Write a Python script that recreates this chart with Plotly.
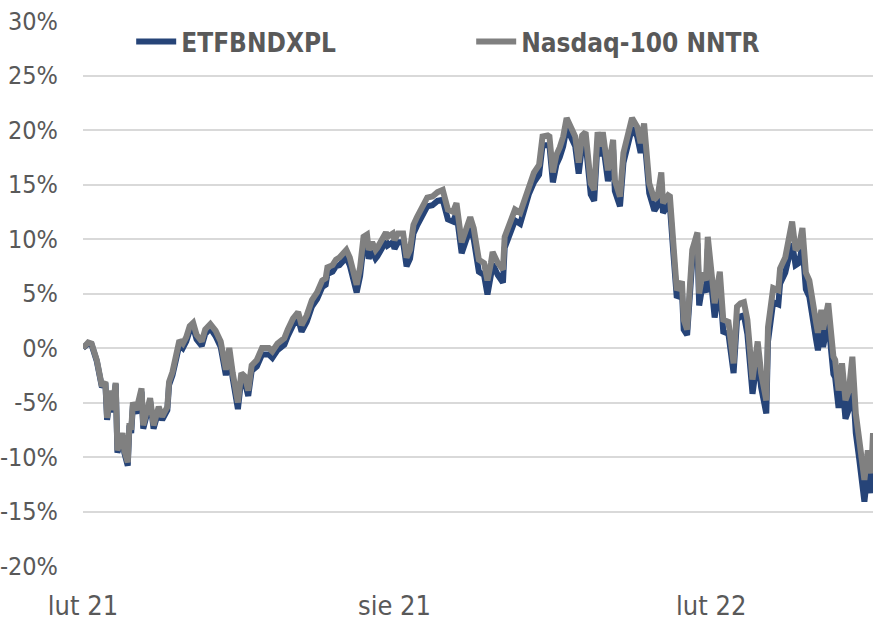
import plotly.graph_objects as go

dates = [
    "2021-02-01", "2021-02-04", "2021-02-06", "2021-02-09", "2021-02-12", "2021-02-14", "2021-02-15",
    "2021-02-17", "2021-02-18", "2021-02-20", "2021-02-21", "2021-02-24", "2021-02-25", "2021-02-27",
    "2021-02-28", "2021-03-01", "2021-03-02", "2021-03-04", "2021-03-07", "2021-03-08", "2021-03-12",
    "2021-03-14", "2021-03-17", "2021-03-19", "2021-03-22", "2021-03-23", "2021-03-25", "2021-03-29",
    "2021-03-31", "2021-04-02", "2021-04-04", "2021-04-06", "2021-04-08", "2021-04-11", "2021-04-13",
    "2021-04-16", "2021-04-19", "2021-04-22", "2021-04-25", "2021-04-27", "2021-04-29", "2021-05-02",
    "2021-05-04", "2021-05-06", "2021-05-08", "2021-05-10", "2021-05-13", "2021-05-16", "2021-05-20",
    "2021-05-22", "2021-05-25", "2021-05-29", "2021-05-31", "2021-06-03", "2021-06-06", "2021-06-08",
    "2021-06-11", "2021-06-14", "2021-06-17", "2021-06-20", "2021-06-22", "2021-06-23", "2021-06-26",
    "2021-06-28", "2021-06-30", "2021-07-04", "2021-07-06", "2021-07-10", "2021-07-12", "2021-07-14",
    "2021-07-16", "2021-07-17", "2021-07-19", "2021-07-21", "2021-07-22", "2021-07-25", "2021-07-27",
    "2021-07-28", "2021-07-31", "2021-08-01", "2021-08-03", "2021-08-06", "2021-08-08", "2021-08-10",
    "2021-08-12", "2021-08-14", "2021-08-17", "2021-08-20", "2021-08-23", "2021-08-26", "2021-08-29",
    "2021-08-30", "2021-09-01", "2021-09-04", "2021-09-06", "2021-09-09", "2021-09-11", "2021-09-14",
    "2021-09-16", "2021-09-19", "2021-09-22", "2021-09-24", "2021-09-26", "2021-09-27", "2021-09-30",
    "2021-10-03", "2021-10-04", "2021-10-07", "2021-10-10", "2021-10-13", "2021-10-16", "2021-10-18",
    "2021-10-21", "2021-10-24", "2021-10-26", "2021-10-29", "2021-10-30", "2021-11-01", "2021-11-03",
    "2021-11-05", "2021-11-07", "2021-11-09", "2021-11-11", "2021-11-14", "2021-11-16", "2021-11-18",
    "2021-11-20", "2021-11-23", "2021-11-25", "2021-11-27", "2021-11-29", "2021-11-30", "2021-12-03",
    "2021-12-06", "2021-12-07", "2021-12-10", "2021-12-12", "2021-12-15", "2021-12-17", "2021-12-20",
    "2021-12-22", "2021-12-24", "2021-12-27", "2021-12-30", "2022-01-01", "2022-01-03", "2022-01-04",
    "2022-01-07", "2022-01-08", "2022-01-10", "2022-01-12", "2022-01-15", "2022-01-16", "2022-01-18",
    "2022-01-21", "2022-01-24", "2022-01-25", "2022-01-27", "2022-01-29", "2022-01-30", "2022-02-02",
    "2022-02-03", "2022-02-06", "2022-02-08", "2022-02-11", "2022-02-14", "2022-02-16", "2022-02-18",
    "2022-02-20", "2022-02-22", "2022-02-25", "2022-02-28", "2022-03-02", "2022-03-05", "2022-03-06",
    "2022-03-09", "2022-03-12", "2022-03-13", "2022-03-16", "2022-03-18", "2022-03-20", "2022-03-22",
    "2022-03-24", "2022-03-26", "2022-03-28", "2022-03-30", "2022-04-01", "2022-04-03", "2022-04-04",
    "2022-04-06", "2022-04-07", "2022-04-10", "2022-04-13", "2022-04-14", "2022-04-16", "2022-04-18",
    "2022-04-20", "2022-04-22", "2022-04-24", "2022-04-26", "2022-04-28", "2022-05-01", "2022-05-03",
    "2022-05-05", "2022-05-06",
]

nasdaq_nntr = [
    0.0, 0.5, 0.4, -1.1, -3.5, -3.1, -6.4,
    -3.9, -5.7, -3.2, -9.4, -7.8, -9.4, -10.5,
    -6.9, -7.5, -5.0, -5.7, -3.7, -7.1, -4.6,
    -7.1, -5.4, -6.3, -5.4, -3.1, -2.2, 0.7,
    0.4, 1.0, 2.0, 2.3, 1.2, 0.6, 1.7,
    2.2, 1.6, 0.6, -2.0, 0.0, -2.3, -5.0,
    -2.3, -2.6, -3.9, -1.6, -1.1, 0.0, 0.0,
    -0.3, 0.4, 0.9, 1.7, 2.7, 3.3, 2.1,
    3.0, 4.4, 5.1, 6.2, 6.4, 7.4, 7.6,
    8.1, 8.3, 9.0, 8.3, 5.8, 7.4, 10.2,
    10.4, 9.0, 9.7, 9.0, 9.2, 9.9, 10.6,
    10.2, 10.5, 9.9, 10.5, 10.5, 8.3, 9.0,
    11.3, 12.0, 12.8, 13.8, 13.9, 14.3, 14.5,
    13.9, 12.7, 12.5, 13.3, 9.7, 10.6, 12.0,
    11.0, 8.1, 7.8, 6.2, 7.8, 8.8, 7.8,
    7.2, 10.2, 11.3, 12.7, 12.4, 13.9, 15.0,
    16.1, 16.8, 19.4, 19.5, 19.4, 16.1, 17.7,
    18.4, 19.4, 21.1, 20.3, 19.4, 17.0, 19.5,
    19.8, 15.1, 14.5, 19.8, 18.5, 19.8, 16.3,
    19.1, 15.4, 13.9, 17.9, 19.7, 21.1, 20.3,
    18.8, 20.6, 15.1, 13.6, 14.0, 16.1, 13.3,
    14.0, 13.9, 9.6, 5.3, 6.1, 2.6, 1.7,
    9.0, 10.6, 5.0, 6.9, 6.2, 10.2, 4.4,
    4.1, 7.0, 2.6, 2.4, -1.4, 3.8, 4.1,
    4.2, 2.6, -2.9, 0.6, -2.3, -4.8, 1.9,
    5.5, 5.3, 7.3, 8.3, 9.9, 11.6, 9.0,
    9.3, 11.0, 6.9, 6.2, 3.8, 2.3, 1.4,
    3.5, 1.7, 4.1, -0.8, -1.1, -3.9, -1.4,
    -4.8, -3.9, -0.8, -6.0, -8.4, -12.1, -9.4,
    -11.5, -7.8,
]

etfbndxpl = [
    0.0, 0.4, 0.3, -1.2, -3.6, -3.2, -6.6,
    -4.0, -5.9, -3.3, -9.6, -8.0, -9.6, -10.8,
    -7.1, -7.8, -5.3, -6.0, -4.0, -7.4, -4.9,
    -7.4, -5.7, -6.6, -5.7, -3.4, -2.5, 0.3,
    0.0, 0.6, 1.6, 1.9, 0.8, 0.2, 1.3,
    1.8, 1.1, 0.1, -2.5, -0.5, -2.8, -5.6,
    -2.8, -3.1, -4.4, -2.1, -1.7, -0.6, -0.6,
    -0.9, -0.2, 0.3, 1.1, 2.1, 2.7, 1.5,
    2.4, 3.8, 4.5, 5.6, 5.8, 6.8, 7.0,
    7.5, 7.6, 8.3, 7.6, 5.1, 6.6, 9.4,
    9.6, 8.2, 8.9, 8.2, 8.4, 9.1, 9.8,
    9.4, 9.7, 9.1, 9.7, 9.7, 7.5, 8.2,
    10.5, 11.2, 12.0, 13.0, 13.1, 13.5, 13.6,
    13.0, 11.8, 11.6, 12.4, 8.7, 9.6, 11.0,
    10.0, 7.0, 6.7, 4.9, 6.7, 7.7, 6.7,
    6.0, 9.2, 10.3, 11.7, 11.4, 13.0, 14.1,
    15.2, 15.9, 18.6, 18.7, 18.6, 15.2, 16.8,
    17.5, 18.5, 20.2, 19.4, 18.5, 16.0, 18.6,
    18.9, 14.1, 13.5, 18.9, 17.6, 18.9, 15.3,
    18.2, 14.4, 13.0, 17.0, 18.8, 20.2, 19.4,
    17.9, 19.7, 14.2, 12.6, 13.1, 15.2, 12.4,
    13.1, 13.0, 8.7, 4.6, 5.2, 1.7, 1.2,
    8.0, 9.6, 3.9, 5.8, 5.1, 9.1, 3.1,
    2.8, 5.9, 1.5, 1.3, -2.3, 2.6, 2.9,
    3.0, 1.3, -4.2, -0.7, -3.6, -6.0, 0.6,
    4.2, 4.0, 5.9, 6.9, 8.4, 9.6, 7.6,
    7.8, 9.4, 5.4, 4.7, 2.2, 0.7, -0.2,
    1.9, 0.1, 2.5, -2.4, -2.7, -5.5, -3.0,
    -6.5, -5.6, -2.5, -7.8, -10.2, -14.1, -11.2,
    -13.3, -9.6,
]

series_names = ["ETFBNDXPL", "Nasdaq-100 NNTR"]
series_colors = ["#264478", "#808080"]

y_tick_values = [-20, -15, -10, -5, 0, 5, 10, 15, 20, 25, 30]
y_tick_labels = ["-20%", "-15%", "-10%", "-5%", "0%", "5%", "10%", "15%", "20%", "25%", "30%"]
x_tick_values = ["2021-02-01", "2021-08-01", "2022-02-01"]
x_tick_labels = ["lut 21", "sie 21", "lut 22"]

FONT = "DejaVu Sans Condensed, DejaVu Sans, sans-serif"
TEXT = "#595959"

fig = go.Figure()
for name, vals, col in zip(series_names, [etfbndxpl, nasdaq_nntr], series_colors):
    fig.add_trace(go.Scatter(
        x=dates, y=vals, name=name, mode="lines",
        line=dict(color=col, width=6, shape="linear"),
    ))

fig.update_layout(
    width=873, height=620,
    margin=dict(l=83, r=0, t=21, b=54),
    paper_bgcolor="white", plot_bgcolor="white",
    font=dict(family=FONT, color=TEXT, size=25),
    showlegend=True,
    legend=dict(
        orientation="h", x=0.061, y=0.962, xanchor="left", yanchor="middle",
        bgcolor="rgba(0,0,0,0)", font=dict(family=FONT, size=26, color=TEXT, weight="bold"),
        entrywidth=285, itemwidth=40, tracegroupgap=0,
    ),
    xaxis=dict(
        type="date", range=["2021-02-01", "2022-05-06"], automargin=False,
        tickvals=x_tick_values, ticktext=x_tick_labels,
        showgrid=False, zeroline=False, showline=False, ticks="",
        tickfont=dict(family=FONT, size=27, color=TEXT), ticklabelstandoff=21,
    ),
    yaxis=dict(
        range=[-20, 30], tickvals=y_tick_values, ticktext=y_tick_labels, automargin=False,
        showgrid=True, gridcolor="#d9d9d9", gridwidth=1.5,
        zeroline=False, showline=False, ticks="",
        tickfont=dict(family=FONT, size=25, color=TEXT), ticklabelstandoff=24,
    ),
)

fig.write_html(
    "out.html",
    config={"displayModeBar": False},
    post_script="document.body.style.margin='0';document.body.style.overflow='hidden';",
)
